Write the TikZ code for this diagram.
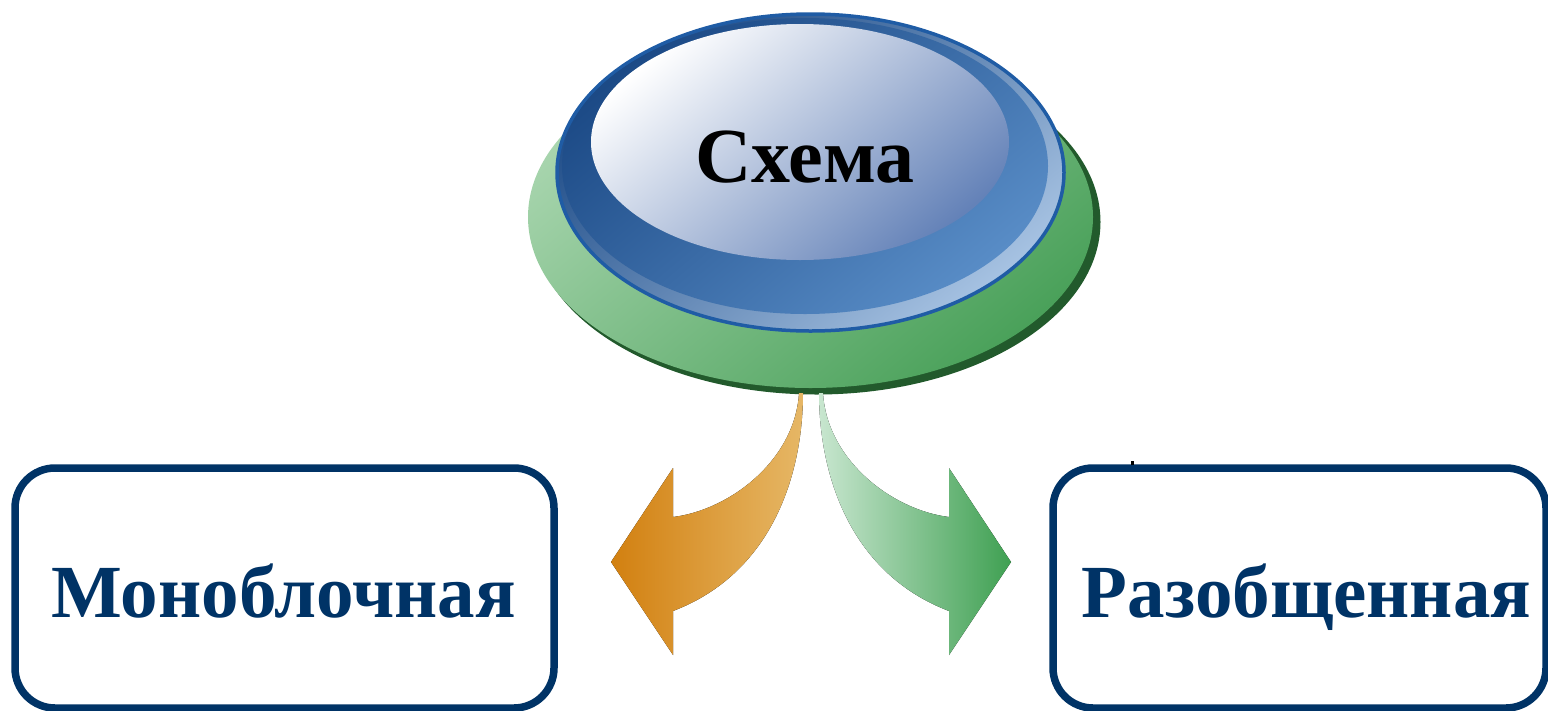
\documentclass[tikz,border=0pt]{standalone}
\usepackage{fontspec}
\setmainfont{Liberation Serif}
\usetikzlibrary{shapes.geometric}
\definecolor{navy}{RGB}{0,51,102}
\definecolor{gdark}{RGB}{34,90,44}
\definecolor{glight}{RGB}{168,213,174}
\definecolor{gmid}{RGB}{74,161,90}
\definecolor{bedge}{RGB}{31,92,165}
\definecolor{bdark}{RGB}{28,74,134}
\definecolor{bmid}{RGB}{88,140,198}
\definecolor{bring}{RGB}{166,194,226}
\definecolor{bslate}{RGB}{100,130,184}
\definecolor{oDark}{RGB}{210,128,16}
\definecolor{oLight}{RGB}{230,183,102}
\definecolor{grPale}{RGB}{200,230,207}
\definecolor{grDeep}{RGB}{63,160,82}
\begin{document}
\begin{tikzpicture}[x=1pt,y=-1pt,
  disc/.style={ellipse, inner sep=0pt, outer sep=0pt},
  box/.style={draw=navy, line width=7.5pt, rounded corners=40pt, fill=white, inner sep=0pt},
  lbl/.style={font=\bfseries\fontsize{75pt}{80pt}\selectfont, text=navy, inner sep=0pt},
  toplbl/.style={font=\bfseries\fontsize{78pt}{84pt}\selectfont, text=black, inner sep=0pt}
]
\useasboundingbox (0,0) rectangle (1548,710);

% green base disc
\node[disc, fill=gdark, minimum width=568pt, minimum height=345pt] (gshadow) at (816.5,222) {};
\node[disc, top color=glight, bottom color=gmid, shading angle=40, minimum width=565pt, minimum height=342pt] (gdisc) at (810.5,217) {};

% blue disc
\node[disc, draw=bedge, line width=3.5pt, top color=bdark, bottom color=bring, shading angle=40, minimum width=507pt, minimum height=317pt] (bdisc) at (810.5,172.5) {};
\node[disc, top color=bdark, bottom color=bmid, shading angle=40, minimum width=486pt, minimum height=296pt] (bband) at (805,166) {};
\node[disc, top color=white, bottom color=bslate, shading angle=40, minimum width=418pt, minimum height=236pt] (inner) at (800,142) {};
\node[toplbl, anchor=base] (schema) at (805,182) {Схема};

% arrows
\coordinate (lt) at (801,393);
\coordinate (rt) at (821,393);
\fill[left color=oDark, right color=oLight]
  (803,393) .. controls (803,470) and (775,572) .. (673,611)
  -- (673,655) -- (611,562) -- (673,468) -- (673,517)
  .. controls (730,510) and (795,460) .. (799,393) -- cycle;
\fill[left color=grPale, right color=grDeep]
  (819,393) .. controls (819,470) and (847,572) .. (949,611)
  -- (949,655) -- (1011,562) -- (949,468) -- (949,517)
  .. controls (892,510) and (827,460) .. (823,393) -- cycle;

% boxes
\node[box, minimum width=539pt, minimum height=240pt] (mono) at (284.5,588) {};
\node[lbl, anchor=base] (monot) at (283.5,617) {Моноблочная};
\node[box, minimum width=493pt, minimum height=240pt] (razob) at (1299.5,588) {};
\node[lbl, anchor=base] (razobt) at (1306.5,617) {Разобщенная};
\fill (1131,461) rectangle (1134,465);
\end{tikzpicture}
\end{document}
